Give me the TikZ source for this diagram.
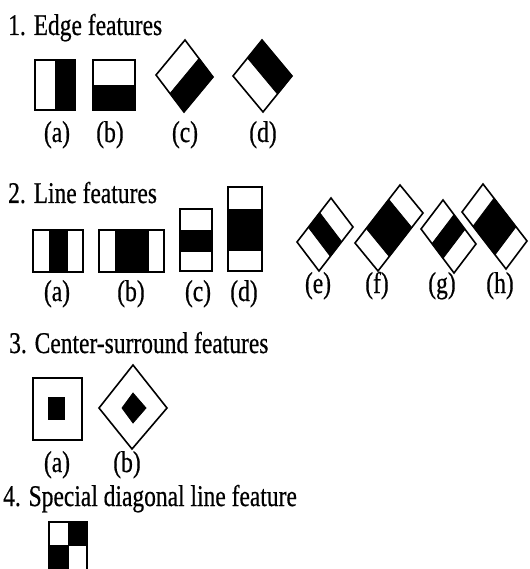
\documentclass[tikz,border=0pt]{standalone}
\usepackage{fontspec}
\setmainfont{Liberation Serif}[FakeBold=0.6]
\usetikzlibrary{calc}
\tikzset{
  outl/.style={draw=black, line width=1.6pt, line join=miter},
  blk/.style={fill=black, draw=black, line width=0.8pt},
  ttl/.style={anchor=base west, inner sep=0pt, font=\fontsize{23.5}{28}\selectfont},
  lab/.style={anchor=base, inner sep=0pt, font=\fontsize{23.5}{28}\selectfont}
}
\newcommand{\tall}[1]{\scalebox{1}[1.28]{#1}}
\begin{document}
\begin{tikzpicture}[x=1pt,y=-1pt]
\useasboundingbox (0,0) rectangle (529,569);
\clip (0,0) rectangle (529,569);

% ---------- titles ----------
\node[ttl] (t1) at (8,35) {\tall{1. Edge features}};
\node[ttl] (t2) at (8,203) {\tall{2. Line features}};
\node[ttl] (t3) at (9,353) {\tall{3. Center-surround features}};
\node[ttl] (t4) at (3,506) {\tall{4. Special diagonal line feature}};

% ---------- 1. edge features ----------
% (a)
\fill[blk] (55,60) rectangle (75,110);
\draw[outl] (35,60) rectangle (75,110);
% (b)
\fill[blk] (93,85) rectangle (135,110);
\draw[outl] (93,60) rectangle (135,110);
% (c)
\coordinate (cT) at (185,40); \coordinate (cR) at (213,77);
\coordinate (cB) at (184,112); \coordinate (cL) at (156,75);
\filldraw[blk] ($(cT)!0.5!(cR)$) -- (cR) -- (cB) -- ($(cL)!0.5!(cB)$) -- cycle;
\draw[outl] (cT) -- (cR) -- (cB) -- (cL) -- cycle;
% (d)
\coordinate (dL) at (233,76); \coordinate (dT) at (262,40);
\coordinate (dR) at (292,76); \coordinate (dB) at (263,112);
\filldraw[blk] ($(dL)!0.5!(dT)$) -- (dT) -- (dR) -- ($(dB)!0.5!(dR)$) -- cycle;
\draw[outl] (dL) -- (dT) -- (dR) -- (dB) -- cycle;

\node[lab] (la1) at (57,142) {\tall{(a)}};
\node[lab] (lb1) at (110,142) {\tall{(b)}};
\node[lab] (lc1) at (185,142) {\tall{(c)}};
\node[lab] (ld1) at (263,142) {\tall{(d)}};

% ---------- 2. line features ----------
\fill[blk] (49,230) rectangle (67,272);
\draw[outl] (33,230) rectangle (83,272);
\fill[blk] (115,230) rectangle (148,272);
\draw[outl] (99,230) rectangle (164,272);
\fill[blk] (180,230) rectangle (212,251);
\draw[outl] (180,209) rectangle (212,271);
\fill[blk] (228,209) rectangle (262,250);
\draw[outl] (228,187) rectangle (262,271);

% (e)
\coordinate (eL) at (297,242); \coordinate (eT) at (331,198);
\coordinate (eR) at (353,227); \coordinate (eB) at (319,271);
\filldraw[blk] ($(eL)!1/3!(eT)$) -- ($(eL)!2/3!(eT)$) -- ($(eB)!2/3!(eR)$) -- ($(eB)!1/3!(eR)$) -- cycle;
\draw[outl] (eL) -- (eT) -- (eR) -- (eB) -- cycle;
% (f)
\coordinate (fL) at (355,243); \coordinate (fT) at (400,185);
\coordinate (fR) at (423,213); \coordinate (fB) at (378,271);
\filldraw[blk] ($(fL)!1/4!(fT)$) -- ($(fL)!3/4!(fT)$) -- ($(fB)!3/4!(fR)$) -- ($(fB)!1/4!(fR)$) -- cycle;
\draw[outl] (fL) -- (fT) -- (fR) -- (fB) -- cycle;
% (g)
\coordinate (gL) at (421,229); \coordinate (gT) at (443,200);
\coordinate (gR) at (476,244); \coordinate (gB) at (454,273);
\filldraw[blk] ($(gT)!1/3!(gR)$) -- ($(gT)!2/3!(gR)$) -- ($(gL)!2/3!(gB)$) -- ($(gL)!1/3!(gB)$) -- cycle;
\draw[outl] (gL) -- (gT) -- (gR) -- (gB) -- cycle;
% (h)
\coordinate (hL) at (462,212); \coordinate (hT) at (483,184);
\coordinate (hR) at (527,241); \coordinate (hB) at (506,269);
\filldraw[blk] ($(hT)!1/4!(hR)$) -- ($(hT)!3/4!(hR)$) -- ($(hL)!3/4!(hB)$) -- ($(hL)!1/4!(hB)$) -- cycle;
\draw[outl] (hL) -- (hT) -- (hR) -- (hB) -- cycle;

\node[lab] (la2) at (57,301) {\tall{(a)}};
\node[lab] (lb2) at (131,301) {\tall{(b)}};
\node[lab] (lc2) at (198,301) {\tall{(c)}};
\node[lab] (ld2) at (244,301) {\tall{(d)}};
\node[lab] (le2) at (318,293) {\tall{(e)}};
\node[lab] (lf2) at (377,293) {\tall{(f)}};
\node[lab] (lg2) at (442,293) {\tall{(g)}};
\node[lab] (lh2) at (500,293) {\tall{(h)}};

% ---------- 3. center-surround ----------
\draw[outl] (33,378) rectangle (82,440);
\fill[blk] (48,397) rectangle (64,419);
\draw[outl] (133,365) -- (167,408) -- (132,449) -- (99,408) -- cycle;
\filldraw[blk] (133,393) -- (146,408) -- (133,423) -- (122,408) -- cycle;

\node[lab] (la3) at (57,472) {\tall{(a)}};
\node[lab] (lb3) at (127,472) {\tall{(b)}};

% ---------- 4. special diagonal (cut by the lower edge) ----------
\fill[blk] (68,522) rectangle (87,545);
\fill[blk] (49,545) rectangle (68,575);
\draw[outl] (49,522) rectangle (87,575);
\end{tikzpicture}
\end{document}
